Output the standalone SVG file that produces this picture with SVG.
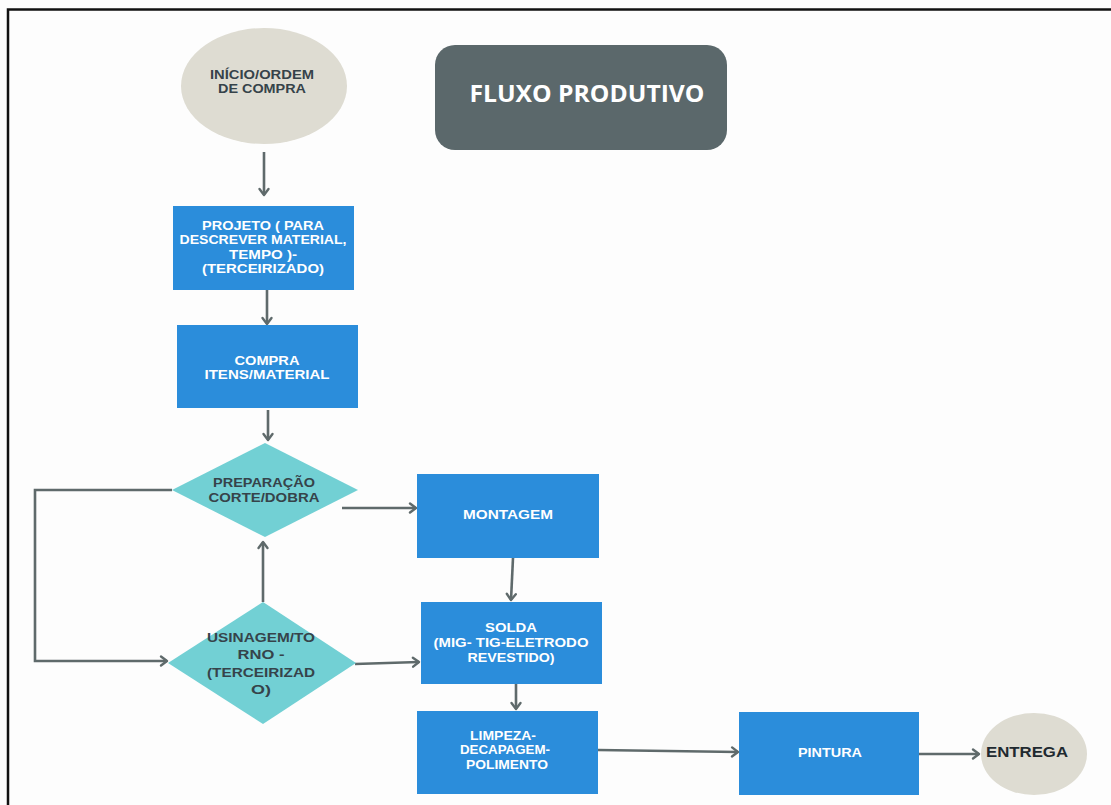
<svg xmlns="http://www.w3.org/2000/svg" width="1111" height="805" viewBox="0 0 1111 805">
<style>
.bg{fill:#fdfdfd}
.frame{fill:none;stroke:#111;stroke-width:2.5}
.box{fill:#2b8ddb}
.dia{fill:#72d0d4}
.ell{fill:#dedcd2}
.title{fill:#5b686b}
text{font-family:"Liberation Sans",Arial,sans-serif;font-weight:700;text-anchor:middle;dominant-baseline:central}
.w{fill:#ffffff;font-size:13px}
.d{fill:#36434a;font-size:13px}
.t{fill:#ffffff;font-size:24px;font-family:"Open Sans","Liberation Sans",sans-serif}
.c{fill:none;stroke:#5f6a6b;stroke-width:2.6;marker-end:url(#ah)}
</style>
<defs>
<marker id="ah" markerUnits="userSpaceOnUse" markerWidth="14" markerHeight="14" refX="10" refY="7" orient="auto">
<path d="M4,2.5 L10,7 L4,11.5" fill="none" stroke="#5f6a6b" stroke-width="2.4" stroke-linecap="round" stroke-linejoin="round"/>
</marker>
</defs>
<rect class="bg" x="0" y="0" width="1111" height="805"/>
<path class="frame" d="M8,810 V9.5 H1115"/>

<g id="connectors">
<path class="c" d="M264,152 V195"/>
<path class="c" d="M267,290 V324"/>
<path class="c" d="M268,410 V440"/>
<path class="c" d="M172,490 H35 V661 H167"/>
<path class="c" d="M263,602 V542"/>
<path class="c" d="M342,508 H416"/>
<path class="c" d="M513,558 L511,600"/>
<path class="c" d="M355,664 L419,662"/>
<path class="c" d="M516,684 V709"/>
<path class="c" d="M598,750 L738,752"/>
<path class="c" d="M919,754 H979"/>
</g>

<g id="inicio">
<ellipse class="ell" cx="264" cy="86" rx="83" ry="58"/>
<text class="d" x="262" y="74" textLength="104" lengthAdjust="spacingAndGlyphs">INÍCIO/ORDEM</text>
<text class="d" x="262" y="88.5" textLength="88" lengthAdjust="spacingAndGlyphs">DE COMPRA</text>
</g>

<g id="titulo">
<rect class="title" x="435" y="45" width="292" height="105" rx="20"/>
<text class="t" x="587" y="92" textLength="235" lengthAdjust="spacingAndGlyphs">FLUXO PRODUTIVO</text>
</g>

<g id="projeto">
<rect class="box" x="173" y="206" width="181" height="84"/>
<text class="w" x="263" y="225" textLength="122" lengthAdjust="spacingAndGlyphs">PROJETO ( PARA</text>
<text class="w" x="263" y="239.5" textLength="167" lengthAdjust="spacingAndGlyphs">DESCREVER MATERIAL,</text>
<text class="w" x="263" y="254" textLength="68" lengthAdjust="spacingAndGlyphs">TEMPO )-</text>
<text class="w" x="263" y="268.5" textLength="122" lengthAdjust="spacingAndGlyphs">(TERCEIRIZADO)</text>
</g>

<g id="compra">
<rect class="box" x="177" y="325" width="181" height="83"/>
<text class="w" x="267" y="360" textLength="65" lengthAdjust="spacingAndGlyphs">COMPRA</text>
<text class="w" x="267" y="374.5" textLength="125" lengthAdjust="spacingAndGlyphs">ITENS/MATERIAL</text>
</g>

<g id="preparacao">
<polygon class="dia" points="265,443 358,490 265,537 172,490"/>
<text class="d" x="264" y="482" textLength="102" lengthAdjust="spacingAndGlyphs">PREPARAÇÃO</text>
<text class="d" x="264" y="497" textLength="111" lengthAdjust="spacingAndGlyphs">CORTE/DOBRA</text>
</g>

<g id="usinagem">
<polygon class="dia" points="263,602 356,663 263,724 168,663"/>
<text class="d" x="261" y="637" textLength="108" lengthAdjust="spacingAndGlyphs">USINAGEM/TO</text>
<text class="d" x="261" y="654" textLength="47" lengthAdjust="spacingAndGlyphs">RNO -</text>
<text class="d" x="261" y="672" textLength="108" lengthAdjust="spacingAndGlyphs">(TERCEIRIZAD</text>
<text class="d" x="261" y="689" textLength="20" lengthAdjust="spacingAndGlyphs">O)</text>
</g>

<g id="montagem">
<rect class="box" x="417" y="474" width="182" height="84"/>
<text class="w" x="508" y="514" textLength="90" lengthAdjust="spacingAndGlyphs">MONTAGEM</text>
</g>

<g id="solda">
<rect class="box" x="421" y="602" width="181" height="82"/>
<text class="w" x="511" y="627" textLength="52" lengthAdjust="spacingAndGlyphs">SOLDA</text>
<text class="w" x="511" y="642" textLength="155" lengthAdjust="spacingAndGlyphs">(MIG- TIG-ELETRODO</text>
<text class="w" x="511" y="657" textLength="87" lengthAdjust="spacingAndGlyphs">REVESTIDO)</text>
</g>

<g id="limpeza">
<rect class="box" x="417" y="711" width="181" height="83"/>
<text class="w" x="503" y="735" textLength="66" lengthAdjust="spacingAndGlyphs">LIMPEZA-</text>
<text class="w" x="505" y="749.5" textLength="90" lengthAdjust="spacingAndGlyphs">DECAPAGEM-</text>
<text class="w" x="507" y="764" textLength="82" lengthAdjust="spacingAndGlyphs">POLIMENTO</text>
</g>

<g id="pintura">
<rect class="box" x="739" y="712" width="180" height="83"/>
<text class="w" x="830" y="752" textLength="64" lengthAdjust="spacingAndGlyphs">PINTURA</text>
</g>

<g id="entrega">
<ellipse class="ell" cx="1034" cy="754" rx="53" ry="41"/>
<text class="d" x="1027" y="752" textLength="82" lengthAdjust="spacingAndGlyphs" style="fill:#1f2a30;font-size:14px">ENTREGA</text>
</g>
</svg>
